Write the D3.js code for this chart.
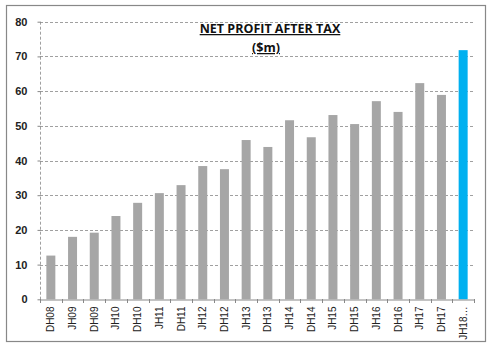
<!DOCTYPE html>
<html><head><meta charset="utf-8">
<script src="https://cdn.jsdelivr.net/npm/d3@7"></script>
<style>body{margin:0;background:#fff}</style>
</head><body>
<svg id="c" width="498" height="347"></svg>
<script>
const categories = ["DH08","JH09","DH09","JH10","DH10","JH11","DH11","JH12","DH12","JH13","DH13","JH14","DH14","JH15","DH15","JH16","DH16","JH17","DH17","JH18…"];
const values = [12.6,18.0,19.2,24.0,27.8,30.6,32.9,38.4,37.5,45.9,43.9,51.6,46.7,53.1,50.5,57.1,54.0,62.3,58.9,71.8];
const yTicks = [0,10,20,30,40,50,60,70,80];
const titleLines = ["NET PROFIT AFTER TAX","($m)"];

const svg = d3.select("#c");
svg.append("rect").attr("x",6.5).attr("y",5.5).attr("width",479).attr("height",336)
  .attr("fill","#fff").attr("stroke","#888").attr("stroke-width",1.2);

const L=40, R=474, T=21.7, B=299.3;
const xb = d3.scaleBand().domain(categories).range([L,R]);
const y = d3.scaleLinear().domain([0,80]).range([B,T]);

// gridlines
svg.append("g").selectAll("line").data(yTicks.filter(d=>d>0)).join("line")
  .attr("x1",L).attr("x2",R).attr("y1",d=>Math.round(y(d))+0.5).attr("y2",d=>Math.round(y(d))+0.5)
  .attr("stroke","#888").attr("stroke-dasharray","3,2").attr("stroke-width",0.8);
// left axis dashed
svg.append("line").attr("x1",L+0.5).attr("x2",L+0.5).attr("y1",T).attr("y2",B)
  .attr("stroke","#888").attr("stroke-dasharray","3,2").attr("stroke-width",0.8);

// bars
svg.append("g").selectAll("rect").data(values).join("rect")
  .attr("x",(d,i)=>xb(categories[i])+xb.bandwidth()/2-4.5)
  .attr("width",9)
  .attr("y",d=>y(d)).attr("height",d=>B-y(d))
  .attr("fill",(d,i)=>i===values.length-1?"#00b0f0":"#a6a6a6");

// y axis
const ya = svg.append("g").attr("transform",`translate(${L+0.5},0)`)
  .call(d3.axisLeft(y).tickValues(yTicks).tickSize(3).tickPadding(10));
ya.select(".domain").remove();
ya.selectAll("line").attr("stroke","#888");
ya.selectAll("text").attr("font-family","Liberation Sans, Arial, sans-serif").attr("font-weight","bold")
  .attr("font-size","11px").attr("fill","#222");

// x axis
const xa = svg.append("g").attr("transform",`translate(0,${Math.round(B)+0.5})`)
  .call(d3.axisBottom(xb).tickSize(0).tickPadding(0));
xa.select(".domain").attr("stroke","#888");
xa.selectAll(".tick text").attr("font-family","Liberation Sans, Arial, sans-serif")
  .attr("font-size","10px").attr("fill","#222")
  .attr("transform","rotate(-90)").attr("text-anchor","end").attr("dx","-7px").attr("dy","0.35em").attr("y",0).attr("x",0);
// tick marks at band boundaries
const bounds = categories.map(c=>xb(c)).concat([R]);
svg.append("g").selectAll("line").data(bounds).join("line")
  .attr("x1",d=>Math.round(d)+0.5).attr("x2",d=>Math.round(d)+0.5)
  .attr("y1",Math.round(B)).attr("y2",Math.round(B)+4).attr("stroke","#888");

// title
const tg = svg.append("g").attr("font-family","Open Sans, Liberation Sans, sans-serif")
  .attr("font-weight","bold").attr("font-size","12.5px").attr("fill","#111");
tg.append("text").attr("x",270).attr("y",33).attr("text-anchor","middle")
  .attr("text-decoration","underline").text(titleLines[0]);
tg.append("text").attr("x",266).attr("y",52).attr("text-anchor","middle")
  .attr("text-decoration","underline").text(titleLines[1]);
</script>
</body></html>
